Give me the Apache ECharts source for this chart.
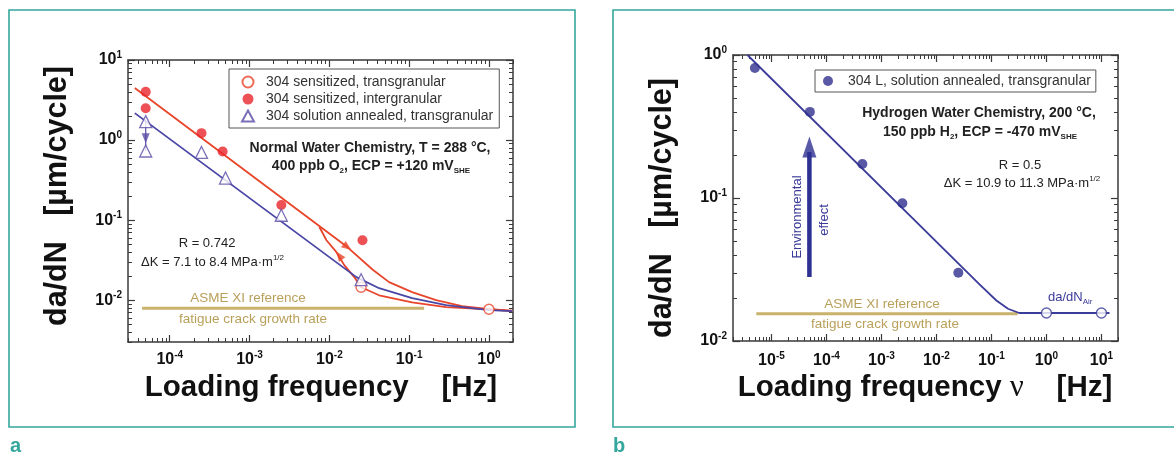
<!DOCTYPE html>
<html><head><meta charset="utf-8">
<script src="https://cdn.jsdelivr.net/npm/echarts@6/dist/echarts.min.js"></script>
<style>html,body{margin:0;padding:0;background:#fff}#c{width:1174px;height:457px}</style>
</head><body><div id="c"></div>
<script>
// ---------------- Panel a data ----------------
const aXRange = [3e-5, 2];
const aYRange = [0.003, 10];
const aXMajor = [1e-4, 1e-3, 1e-2, 1e-1, 1];
const aYMajor = [0.01, 0.1, 1, 10];
const aSensTransFreq = [0.025, 1.0];
const aSensTransRate = [0.0145, 0.0077];
const aSensInterFreq = [5e-5, 5e-5, 2.5e-4, 4.6e-4, 2.5e-3, 0.026];
const aSensInterRate = [4.0, 2.5, 1.22, 0.72, 0.154, 0.056];
const aSolAnnFreq = [5e-5, 5e-5, 2.5e-4, 5e-4, 2.5e-3, 0.025];
const aSolAnnRate = [1.7, 0.73, 0.70, 0.335, 0.115, 0.018];
const aRedUpperFreq = [3.65e-5, 0.0168, 0.035, 0.056, 0.109, 0.2175, 0.46, 1.0, 1.95];
const aRedUpperRate = [4.47, 0.046, 0.024, 0.0168, 0.0126, 0.0100, 0.0084, 0.0077, 0.0074];
const aRedLowerFreq = [0.0075, 0.0092, 0.0122, 0.0154, 0.0205, 0.025, 0.042, 0.109, 0.29, 1.0, 1.95];
const aRedLowerRate = [0.082, 0.056, 0.040, 0.0274, 0.0194, 0.0145, 0.0115, 0.0094, 0.0082, 0.0077, 0.0073];
const aBlueFreq = [3.65e-5, 0.0218, 0.042, 0.109, 0.29, 1.0, 1.95];
const aBlueRate = [2.17, 0.0194, 0.0141, 0.0106, 0.00866, 0.0075, 0.0073];
const aAsmeFreq = [4.5e-5, 0.154];
const aAsmeRate = [0.0079, 0.0079];
const aDropFreq = [5e-5, 5e-5];
const aDropRate = [1.7, 0.73];
const aArrowFreq = [0.0168, 0.0133, 5e-5];
const aArrowRate = [0.046, 0.036, 1.05];
const aArrowRot = [-127, 36, 180];
const aArrowColor = ['#e8452a', '#e8452a', '#5b4ba6'];

// ---------------- Panel b data ----------------
const bXRange = [2e-6, 20];
const bYRange = [0.01, 1];
const bXMajor = [1e-5, 1e-4, 1e-3, 1e-2, 1e-1, 1, 10];
const bYMajor = [0.01, 0.1, 1];
const bFreq = [5e-6, 5e-5, 4.5e-4, 2.4e-3, 0.025];
const bRate = [0.81, 0.40, 0.173, 0.092, 0.030];
const bAirFreq = [1, 10];
const bAirRate = [0.0157, 0.0157];
const bFitFreq = [3.66e-6, 0.06, 0.123, 0.2, 0.32, 1, 10, 14];
const bFitRate = [1.0, 0.025, 0.0192, 0.0168, 0.0157, 0.0157, 0.0157, 0.0157];
const bAsmeFreq = [5.3e-6, 0.3];
const bAsmeRate = [0.0155, 0.0155];
const bEnvFreq = [4.9e-5, 4.9e-5];
const bEnvRate = [0.028, 0.21];
const bEnvHeadFreq = [4.9e-5];
const bEnvHeadRate = [0.227];

const FONT = "'Liberation Sans', Arial, Helvetica, sans-serif";
const AX = '#3a3a3a';
const RED = '#e8452a', REDDOT = '#e8262a', PURPLE = '#5b4ba6', BLUEA = '#4a46a6';
const BLUEB = '#3b3b9a', DOTB = '#2e2e8f', TAN = '#c8b26c', TANTXT = '#b9a05a', TEAL = '#35a79c';

const zip = (xs, ys) => xs.map((x, i) => [x, ys[i]]);

function decadeMinor(range) {
  const out = [];
  for (let e = Math.floor(Math.log10(range[0])); e <= Math.ceil(Math.log10(range[1])); e++) {
    for (let k = 2; k <= 9; k++) {
      const v = k * Math.pow(10, e);
      if (v >= range[0] * 0.999 && v <= range[1] * 1.001) out.push(v);
    }
  }
  return out;
}
const RICHLAB = {
  b: {fontSize: 16, fontWeight: 'bold', fontFamily: FONT, color: '#111', lineHeight: 20},
  s: {fontSize: 10, fontWeight: 'bold', fontFamily: FONT, color: '#111', lineHeight: 10, verticalAlign: 'top'}
};
function powLabel(v) {
  const e = Math.round(Math.log10(v));
  return '{b|10}{s|' + e + '}';
}
function axisSet(grid, range, major, posMain, posMirror, margin) {
  const minor = decadeMinor(range);
  const base = {type: 'log', logBase: 10, gridIndex: grid, min: range[0], max: range[1],
    splitLine: {show: false}, minorTick: {show: false}, minorSplitLine: {show: false}, silent: true};
  const line = {show: true, onZero: false, lineStyle: {color: AX, width: 1.5}};
  const noLine = {show: false, onZero: false};
  const tMaj = {show: true, inside: true, length: 7, customValues: major, lineStyle: {color: AX, width: 1.2}};
  const tMin = {show: true, inside: true, length: 4, customValues: minor, lineStyle: {color: AX, width: 1}};
  return [
    Object.assign({}, base, {position: posMain, axisLine: line, axisTick: tMaj,
      axisLabel: {show: true, customValues: major, formatter: powLabel, margin: margin, rich: RICHLAB}}),
    Object.assign({}, base, {position: posMain, axisLine: noLine, axisTick: tMin, axisLabel: {show: false}}),
    Object.assign({}, base, {position: posMirror, axisLine: line, axisTick: tMaj, axisLabel: {show: false}}),
    Object.assign({}, base, {position: posMirror, axisLine: noLine, axisTick: tMin, axisLabel: {show: false}})
  ];
}

const xAxes = axisSet(0, aXRange, aXMajor, 'bottom', 'top', 8).concat(axisSet(1, bXRange, bXMajor, 'bottom', 'top', 10));
const yAxes = axisSet(0, aYRange, aYMajor, 'left', 'right', 6).concat(axisSet(1, bYRange, bYMajor, 'left', 'right', 6));

function lineS(xi, yi, data, color, width) {
  return {type: 'line', xAxisIndex: xi, yAxisIndex: yi, data: data, showSymbol: false, symbol: 'none',
    smooth: false, lineStyle: {color: color, width: width, join: 'round'}, z: 2, silent: true, animation: false};
}

function R(size, weight, fill, extra) {
  return Object.assign({fontSize: size, fontWeight: weight, fontFamily: FONT, fill: fill}, extra || {});
}
function T(x, y, text, size, weight, fill, align, rich, rot) {
  const r = {t: R(size, weight, fill, {lineHeight: size + 4})};
  if (rich) Object.assign(r, rich);
  return {type: 'text', x: x, y: y, rotation: rot || 0, silent: true, z: 50,
    style: {text: text, rich: r, fontSize: size, fontWeight: weight, fontFamily: FONT, fill: fill,
      align: align || 'center', verticalAlign: 'middle'}};
}
const subB = (fs) => ({sub: R(fs, 'bold', '#222', {lineHeight: 8, verticalAlign: 'bottom'})});
const supR = (fill) => ({sup: R(8, 'normal', fill, {lineHeight: 8, verticalAlign: 'top'})});

const chart = echarts.init(document.getElementById('c'), null, {renderer: 'canvas'});
chart.setOption({
  animation: false,
  backgroundColor: '#fff',
  grid: [
    {left: 128, top: 60, width: 385, height: 282, containLabel: false},
    {left: 733, top: 55, width: 385, height: 286, containLabel: false}
  ],
  xAxis: xAxes,
  yAxis: yAxes,
  legend: [
    {left: 229, top: 69, orient: 'vertical', selectedMode: false, symbolKeepAspect: true,
      data: ['304 sensitized, transgranular', '304 sensitized, intergranular', '304 solution annealed, transgranular'],
      itemWidth: 12, itemHeight: 11, itemGap: 3, padding: [6, 6, 5, 12],
      borderColor: '#555', borderWidth: 1, backgroundColor: '#fff',
      textStyle: {fontSize: 14, color: '#333', fontFamily: FONT, padding: [0, 0, 0, 7]}},
    {left: 815, top: 70, orient: 'vertical', selectedMode: false, symbolKeepAspect: true,
      data: ['304 L, solution annealed, transgranular'],
      itemWidth: 10, itemHeight: 10, itemGap: 3, padding: [4, 5, 4, 8],
      borderColor: '#555', borderWidth: 1, backgroundColor: '#fff',
      textStyle: {fontSize: 14, color: '#333', fontFamily: FONT, padding: [0, 0, 0, 10]}}
  ],
  series: [
    lineS(0, 0, zip(aAsmeFreq, aAsmeRate), TAN, 3),
    lineS(0, 0, zip(aRedUpperFreq, aRedUpperRate), RED, 1.8),
    lineS(0, 0, zip(aRedLowerFreq, aRedLowerRate), RED, 1.8),
    lineS(0, 0, zip(aBlueFreq, aBlueRate), BLUEA, 1.8),
    lineS(0, 0, zip(aDropFreq, aDropRate), PURPLE, 1.2),
    {type: 'scatter', xAxisIndex: 0, yAxisIndex: 0, silent: true, z: 4, symbol: 'triangle', symbolSize: [8, 10],
      data: aArrowFreq.map((f, i) => ({value: [f, aArrowRate[i]], symbolRotate: aArrowRot[i], itemStyle: {color: aArrowColor[i]}}))},
    {type: 'scatter', name: '304 sensitized, transgranular', xAxisIndex: 0, yAxisIndex: 0, z: 5,
      symbol: 'circle', symbolSize: 10, data: zip(aSensTransFreq, aSensTransRate),
      itemStyle: {color: '#fff', borderColor: RED, borderWidth: 1.4}},
    {type: 'scatter', name: '304 sensitized, intergranular', xAxisIndex: 0, yAxisIndex: 0, z: 5,
      symbol: 'circle', symbolSize: 10, data: zip(aSensInterFreq, aSensInterRate),
      itemStyle: {color: REDDOT}},
    {type: 'scatter', name: '304 solution annealed, transgranular', xAxisIndex: 0, yAxisIndex: 0, z: 5,
      symbol: 'triangle', symbolSize: 12, data: zip(aSolAnnFreq, aSolAnnRate),
      itemStyle: {color: '#fff', borderColor: PURPLE, borderWidth: 1.3}},

    lineS(4, 4, zip(bAsmeFreq, bAsmeRate), TAN, 3),
    lineS(4, 4, zip(bFitFreq, bFitRate), BLUEB, 1.8),
    lineS(4, 4, zip(bEnvFreq, bEnvRate), '#2e3192', 4.5),
    {type: 'scatter', xAxisIndex: 4, yAxisIndex: 4, silent: true, z: 4, symbol: 'triangle', symbolSize: [14, 21],
      data: zip(bEnvHeadFreq, bEnvHeadRate), itemStyle: {color: '#2e3192'}},
    {type: 'scatter', xAxisIndex: 4, yAxisIndex: 4, silent: true, z: 5, symbol: 'circle', symbolSize: 10,
      data: zip(bAirFreq, bAirRate), itemStyle: {color: '#fff', borderColor: BLUEB, borderWidth: 1.4}},
    {type: 'scatter', name: '304 L, solution annealed, transgranular', xAxisIndex: 4, yAxisIndex: 4, z: 5,
      symbol: 'circle', symbolSize: 10, data: zip(bFreq, bRate), itemStyle: {color: DOTB}}
  ],
  graphic: [
    {type: 'rect', shape: {x: 9, y: 10, width: 566, height: 417}, style: {fill: 'none', stroke: TEAL, lineWidth: 1.6}, silent: true},
    {type: 'rect', shape: {x: 613, y: 10, width: 620, height: 417}, style: {fill: 'none', stroke: TEAL, lineWidth: 1.6}, silent: true},
    T(10, 446, '{t|a}', 20, 'bold', TEAL, 'left'),
    T(613, 446, '{t|b}', 20, 'bold', TEAL, 'left'),

    T(321, 388, '{t|Loading frequency    [Hz]}', 29.5, 'bold', '#111'),
    T(58, 196, '{t|da/dN   [µm/cycle]}', 30.5, 'bold', '#111', 'center', null, Math.PI / 2),
    T(925, 388, '{t|Loading frequency }{n|ν}{t|    [Hz]}', 29.5, 'bold', '#111', 'center',
      {n: R(31, 'normal', '#111', {fontFamily: "'Liberation Serif', 'DejaVu Serif', serif", lineHeight: 34})}),
    T(663, 208, '{t|da/dN   [µm/cycle]}', 30.5, 'bold', '#111', 'center', null, Math.PI / 2),

    T(370, 148, '{t|Normal Water Chemistry, T = 288 °C,}', 14, 'bold', '#222'),
    T(371, 166, '{t|400 ppb O}{sub|2}{t|, ECP = +120 mV}{sub|SHE}', 14, 'bold', '#222', 'center', subB(8)),
    T(207, 243, '{t|R = 0.742}', 13, 'normal', '#222'),
    T(141, 262, '{t|ΔK = 7.1 to 8.4 MPa·m}{sup|1/2}', 13, 'normal', '#222', 'left', supR('#222')),
    T(248, 298, '{t|ASME XI reference}', 13.5, 'normal', TANTXT),
    T(253, 319, '{t|fatigue crack growth rate}', 13.5, 'normal', TANTXT),

    T(979, 113, '{t|Hydrogen Water Chemistry, 200 °C,}', 14, 'bold', '#222'),
    T(980, 132, '{t|150 ppb H}{sub|2}{t|, ECP = -470 mV}{sub|SHE}', 14, 'bold', '#222', 'center', subB(8)),
    T(1020, 165, '{t|R = 0.5}', 13, 'normal', '#222'),
    T(1022, 183, '{t|ΔK = 10.9 to 11.3 MPa·m}{sup|1/2}', 13, 'normal', '#222', 'center', supR('#222')),
    T(797, 217, '{t|Environmental}', 13, 'normal', '#3a3a9a', 'center', null, Math.PI / 2),
    T(824, 220, '{t|effect}', 13, 'normal', '#3a3a9a', 'center', null, Math.PI / 2),
    T(882, 304, '{t|ASME XI reference}', 13.5, 'normal', TANTXT),
    T(885, 324, '{t|fatigue crack growth rate}', 13.5, 'normal', TANTXT),
    T(1048, 297, '{t|da/dN}{s|Air}', 13, 'normal', '#3a3a9a', 'left',
      {s: R(8, 'normal', '#3a3a9a', {lineHeight: 8, verticalAlign: 'bottom'})})
  ]
});
</script>
</body></html>
